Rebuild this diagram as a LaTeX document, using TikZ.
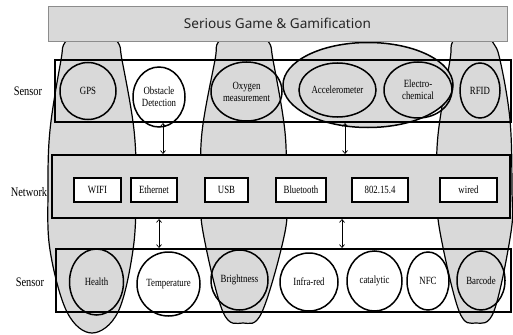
\documentclass[tikz,border=0pt]{standalone}
\usepackage{fontspec}
\setmainfont{Liberation Serif}
\newfontfamily\narrowserif[FakeStretch=0.8]{Liberation Serif}
\newfontfamily\bannerfont{Noto Sans}
\usetikzlibrary{shapes.geometric,arrows.meta}
\definecolor{panelgray}{RGB}{217,217,217}
\definecolor{framegray}{RGB}{140,140,140}

\begin{document}
\begin{tikzpicture}[x=1pt,y=-1pt,
    sensor/.style={draw,line width=1.5pt,ellipse,inner sep=0pt,align=center,
      font=\narrowserif\fontsize{11}{12}\selectfont},
    netbox/.style={draw,line width=1.4pt,fill=white,rectangle,inner sep=0pt,
      minimum height=24pt,font=\narrowserif\fontsize{11}{12}\selectfont},
    rowframe/.style={draw,line width=1.9pt,rectangle,inner sep=0pt},
    pillar/.style={fill=panelgray,draw,line width=1.2pt},
    level/.style={font=\narrowserif\fontsize{13}{15}\selectfont},
    link/.style={{Straight Barb[length=3pt,width=5pt]}-{Straight Barb[length=3pt,width=5pt]},line width=0.7pt}]
  \useasboundingbox (0,0) rectangle (513,334);

  % vertical groups behind everything
  \draw[pillar] plot[smooth cycle,tension=0.6] coordinates {(92,14) (117,41) (122,60) (134,130) (136,190) (133,250) (118,312) (92,333) (67,312) (50,250) (48,190) (50,130) (61,60) (66,41)};
  \draw[pillar] plot[smooth cycle,tension=0.6] coordinates {(244,14) (268,41) (273,60) (285,132) (286,190) (285,232) (262,312) (243,323) (223,312) (203,232) (201,190) (202,132) (215,60) (219,41)};
  \draw[pillar] plot[smooth cycle,tension=0.6] coordinates {(472,14) (492,41) (500,60) (510,120) (512,190) (511,232) (494,311) (476,323) (459,311) (440,232) (437,190) (438,135) (450,60) (453,41)};
  \node[ellipse,pillar,line width=1.5pt,minimum width=170pt,minimum height=85pt] (accgroup) at (368,85) {};

  % banner
  \node[fill=panelgray,draw=framegray,line width=0.6pt,minimum width=459pt,minimum height=35pt,
    font=\bannerfont\fontsize{13.6}{15}\selectfont,text=black!85] (banner) at (277.5,23.5) {Serious Game \& Gamification};

  % top sensor row
  \node[rowframe,minimum width=456pt,minimum height=62pt] (toprow) at (283,91) {};
  \node[sensor,minimum width=56pt,minimum height=57pt] (gps) at (88,91) {GPS};
  \node[sensor,minimum width=52pt,minimum height=60pt] (obst) at (159,97) {Obstacle\\Detection};
  \node[sensor,minimum width=71pt,minimum height=59pt] (oxy) at (246.5,91.5) {Oxygen\\measurement};
  \node[sensor,minimum width=77pt,minimum height=54pt] (acc) at (337.5,90) {Accelerometer};
  \node[sensor,minimum width=68pt,minimum height=56pt] (elec) at (418,90) {Electro-\\chemical};
  \node[sensor,minimum width=40pt,minimum height=55pt] (rfid) at (480,90.5) {RFID};

  % network row
  \node[rowframe,fill=panelgray,minimum width=458pt,minimum height=63pt] (net) at (281,186.5) {};
  \node[netbox,minimum width=47pt] (wifi) at (97.5,190) {WIFI};
  \node[netbox,minimum width=46pt] (eth) at (154,190) {Ethernet};
  \node[netbox,minimum width=43pt] (usb) at (226.5,190) {USB};
  \node[netbox,minimum width=50pt] (bt) at (301,190) {Bluetooth};
  \node[netbox,minimum width=56pt] (zigbee) at (380,190) {802.15.4};
  \node[netbox,minimum width=57pt] (wired) at (468.5,190) {wired};

  % bottom sensor row
  \node[rowframe,minimum width=455pt,minimum height=63pt] (botrow) at (283.5,280.5) {};
  \node[sensor,minimum width=54pt,minimum height=66pt] (health) at (96.5,282) {Health};
  \node[sensor,minimum width=63pt,minimum height=64pt] (temp) at (168.5,284) {Temperature};
  \node[sensor,minimum width=57pt,minimum height=60pt] (bright) at (239.5,280) {Brightness};
  \node[sensor,minimum width=58pt,minimum height=58pt] (infra) at (309,282) {Infra-red};
  \node[sensor,minimum width=55pt,minimum height=60pt] (cata) at (374.5,281) {catalytic};
  \node[sensor,minimum width=42pt,minimum height=58pt] (nfc) at (428,281) {NFC};
  \node[sensor,minimum width=48pt,minimum height=59pt] (barcode) at (481,280.5) {Barcode};

  % links between rows
  \coordinate (obstlink) at (163,0);
  \coordinate (acclink) at (345,0);
  \coordinate (templink) at (159,0);
  \coordinate (irlink) at (342,0);
  \draw[link] (toprow.south -| obstlink) -- (net.north -| obstlink);
  \draw[link] (toprow.south -| acclink) -- (net.north -| acclink);
  \draw[link] (net.south -| templink) -- (botrow.north -| templink);
  \draw[link] (net.south -| irlink) -- (botrow.north -| irlink);

  % row labels
  \node[level] (sens1) at (28,91) {Sensor};
  \node[level] (netlab) at (29,192) {Network};
  \node[level] (sens2) at (30,282) {Sensor};
\end{tikzpicture}
\end{document}
